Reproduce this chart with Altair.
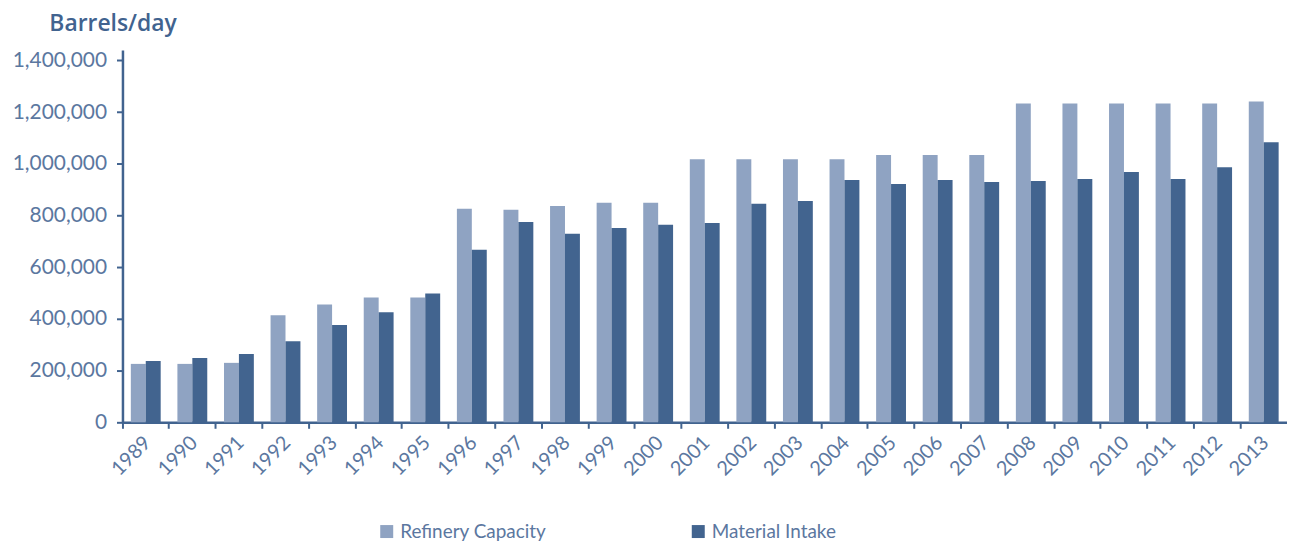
import altair as alt
import pandas as pd

years = [str(y) for y in range(1989, 2014)]
capacity = [226000, 226000, 230000, 414000, 456000, 483000, 483000, 826000, 822000, 837000,
            849000, 849000, 1018000, 1018000, 1018000, 1018000, 1034000, 1034000, 1034000,
            1233000, 1233000, 1233000, 1233000, 1233000, 1241000]
intake = [237000, 249000, 264000, 314000, 376000, 426000, 498000, 668000, 775000, 729000,
          752000, 764000, 771000, 845000, 856000, 937000, 922000, 937000, 930000,
          933000, 941000, 968000, 941000, 987000, 1083000]
series = ["Refinery Capacity", "Material Intake"]
colors = ["#8fa3c2", "#42648f"]
y_ticks = [0, 200000, 400000, 600000, 800000, 1000000, 1200000, 1400000]

rows = []
for i, y in enumerate(years):
    rows.append({"year": y, "series": series[0], "value": capacity[i]})
    rows.append({"year": y, "series": series[1], "value": intake[i]})
df = pd.DataFrame(rows)

W = 1170
H = 374
axis_col = "#41638f"
text_col = "#5b77a0"
font = "Lato"

chart = alt.Chart(df).mark_bar().encode(
    x=alt.X("year:N", sort=years,
            scale=alt.Scale(paddingInner=0, paddingOuter=0),
            axis=alt.Axis(title=None, bandPosition=0, labelOffset=-5,
                          labelAngle=-45, labelFont=font, labelFontSize=20,
                          labelColor=text_col, domainColor=axis_col, domainWidth=2.5,
                          tickColor=axis_col, tickWidth=2, tickSize=6,
                          labelPadding=4)),
    xOffset=alt.XOffset("series:N", sort=series,
                        scale=alt.Scale(domain=series, paddingInner=0, paddingOuter=0.56)),
    y=alt.Y("value:Q",
            scale=alt.Scale(domain=[0, 1440000], nice=False),
            axis=alt.Axis(title="Barrels/day", values=y_ticks, format=",.0f",
                          titleAngle=0, titleAlign="left", titleBaseline="alphabetic",
                          titleX=-74, titleY=-20, titleFont="Open Sans", titleFontSize=23,
                          titleFontWeight=600, titleColor=axis_col,
                          labelFont=font, labelFontSize=21, labelColor=text_col,
                          labelPadding=10, domainColor=axis_col, domainWidth=2.5,
                          tickColor=axis_col, tickWidth=2, tickSize=6, grid=False)),
    color=alt.Color("series:N", sort=series,
                    scale=alt.Scale(domain=series, range=colors),
                    legend=alt.Legend(title=None, orient="none", direction="horizontal",
                                      legendX=256, legendY=474, padding=0,
                                      symbolType="square", symbolSize=170,
                                      symbolStrokeWidth=0, symbolOpacity=1,
                                      labelFont=font, labelFontSize=19,
                                      labelLimit=400,
                                      labelColor=text_col, columnPadding=143,
                                      labelOffset=4)),
).properties(
    width=W, height=H,
    padding={"left": 4, "top": 3, "right": 0, "bottom": 0},
).configure_view(stroke=None)

chart.save("out.html", embed_options={"renderer": "svg", "actions": False})
